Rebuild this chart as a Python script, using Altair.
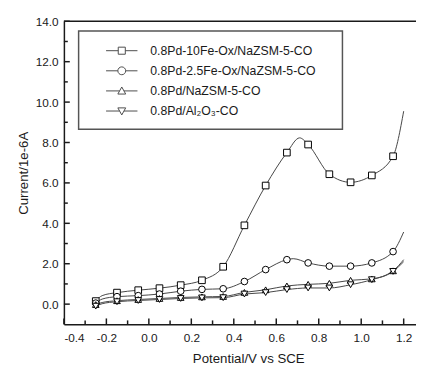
import altair as alt
import pandas as pd

# ---------------- data ----------------
series_names = [
    "0.8Pd-10Fe-Ox/NaZSM-5-CO",
    "0.8Pd-2.5Fe-Ox/NaZSM-5-CO",
    "0.8Pd/NaZSM-5-CO",
    "0.8Pd/Al₂O₃-CO",
]
x_markers = [-0.25, -0.15, -0.05, 0.05, 0.15, 0.25, 0.35, 0.45, 0.55, 0.65, 0.75, 0.85, 0.95, 1.05, 1.15]
fe10_y = [0.15, 0.57, 0.69, 0.79, 0.94, 1.18, 1.85, 3.9, 5.87, 7.5, 7.9, 6.43, 6.03, 6.37, 7.32]
fe25_y = [0.05, 0.37, 0.42, 0.5, 0.64, 0.73, 0.76, 1.12, 1.71, 2.2, 2.04, 1.88, 1.88, 2.04, 2.6]
nazsm_y = [-0.02, 0.17, 0.23, 0.28, 0.33, 0.36, 0.38, 0.58, 0.71, 0.9, 0.98, 1.03, 1.18, 1.25, 1.65]
al2o3_y = [-0.1, 0.12, 0.18, 0.23, 0.28, 0.31, 0.32, 0.5, 0.57, 0.72, 0.8, 0.8, 0.96, 1.21, 1.62]

# extra points of the continuous curves (start hook, peaks, end of scan)
fe10_extra_x = [-0.22, 0.71, 1.2]
fe10_extra_y = [0.42, 8.23, 9.55]
fe25_extra_x = [-0.22, 0.68, 1.2]
fe25_extra_y = [0.25, 2.25, 3.57]
nazsm_extra_x = [-0.22, 1.2]
nazsm_extra_y = [0.08, 2.2]
al2o3_extra_x = [-0.22, 1.2]
al2o3_extra_y = [0.02, 2.1]

x_major = [-0.4, -0.2, 0.0, 0.2, 0.4, 0.6, 0.8, 1.0, 1.2]
x_minor = [-0.3, -0.1, 0.1, 0.3, 0.5, 0.7, 0.9, 1.1]
y_major = [0, 2, 4, 6, 8, 10, 12, 14]
y_minor = [1, 3, 5, 7, 9, 11, 13]

x_domain = [-0.4, 1.258]
y_domain = [-1, 14]

# ---------------- tables ----------------
marker_rows = []
for name, ys in zip(series_names, [fe10_y, fe25_y, nazsm_y, al2o3_y]):
    for xv, yv in zip(x_markers, ys):
        marker_rows.append({"series": name, "x": xv, "y": yv})
markers_df = pd.DataFrame(marker_rows)

line_rows = list(marker_rows)
for name, xs, ys in zip(
    series_names,
    [fe10_extra_x, fe25_extra_x, nazsm_extra_x, al2o3_extra_x],
    [fe10_extra_y, fe25_extra_y, nazsm_extra_y, al2o3_extra_y],
):
    for xv, yv in zip(xs, ys):
        line_rows.append({"series": name, "x": xv, "y": yv})
lines_df = pd.DataFrame(line_rows).sort_values(["series", "x"]).reset_index(drop=True)

W, H = 359, 309
FONT = "Liberation Sans"
INK = "#1a1a1a"

xscale = alt.Scale(domain=x_domain, nice=False, zero=False)
yscale = alt.Scale(domain=y_domain, nice=False, zero=False)

minus_fix = "replace(format(datum.value, '.1f'), '−', '-')"

x_axis = alt.Axis(
    values=x_major, labelExpr=minus_fix, ticks=False, grid=False,
    labelFont=FONT, labelFontSize=12, labelColor=INK, labelPadding=9,
    domainColor=INK, domainWidth=1.5,
    title="Potential/V vs SCE", titleFont=FONT, titleFontSize=13.5,
    titleFontWeight="normal", titleColor=INK,
    titleX=188, titleY=39, titleBaseline="alphabetic",
)
y_axis = alt.Axis(
    values=y_major, labelExpr=minus_fix, ticks=False, grid=False,
    labelFont=FONT, labelFontSize=12, labelColor=INK, labelPadding=6,
    domainColor=INK, domainWidth=1.5,
    title="Current/1e-6A", titleFont=FONT, titleFontSize=13.5,
    titleFontWeight="normal", titleColor=INK,
    titleX=-37, titleBaseline="alphabetic",
)


def X(field):
    return alt.X(field, scale=xscale, axis=x_axis)


def Y(field):
    return alt.Y(field, scale=yscale, axis=y_axis)


legend_box = alt.Chart(pd.DataFrame({"a": [0]})).mark_rect(
    fill="white", stroke="#555555", strokeWidth=1.5
).encode(
    x=alt.value(15), x2=alt.value(284), y=alt.value(10), y2=alt.value(110)
)

top_frame = alt.Chart(pd.DataFrame({"a": [0]})).mark_rule(
    color=INK, strokeWidth=1.5
).encode(x=alt.value(0), x2=alt.value(W), y=alt.value(0))

lines = alt.Chart(lines_df).mark_line(
    color="#444444", strokeWidth=1, interpolate="monotone"
).encode(
    x=X("x:Q"),
    y=Y("y:Q"),
    detail="series:N",
)

markers = alt.Chart(markers_df).mark_point(
    filled=True, fill="white", stroke="black", strokeWidth=1, size=46, opacity=1
).encode(
    x=X("x:Q"),
    y=Y("y:Q"),
    shape=alt.Shape(
        "series:N",
        scale=alt.Scale(domain=series_names,
                        range=["square", "circle", "triangle-up", "triangle-down"]),
        legend=None,
    ),
)

legend_paths = [
    "M-4,0H-0.9M0.9,0H4M-0.9,-0.9H0.9V0.9H-0.9Z",
    "M-4,0H-1M1,0H4M-1,0A1,1,0,1,0,1,0A1,1,0,1,0,-1,0Z",
    "M-4,0H-0.56M0.56,0H4M0,-1L1,0.8L-1,0.8Z",
    "M-4,0H-0.56M0.56,0H4M0,1L1,-0.8L-1,-0.8Z",
]

legend_carrier = alt.Chart(markers_df).transform_filter("false").mark_point(
    filled=False, color="black", strokeWidth=1, size=64
).encode(
    x=X("x:Q"),
    y=Y("y:Q"),
    shape=alt.Shape(
        "series:N",
        scale=alt.Scale(domain=series_names, range=legend_paths),
        legend=alt.Legend(
            orient="none", legendX=42.75, legendY=23.75, title=None,
            labelFont=FONT, labelFontSize=12.5, labelColor=INK,
            symbolSize=64, symbolStrokeWidth=1, symbolStrokeColor="black",
            symbolOffset=10, labelOffset=22.75, rowPadding=7.5, padding=0,
            labelLimit=400,
        ),
    ),
)

x_ticks_major = alt.Chart(pd.DataFrame({"x": x_major})).mark_rule(color=INK, strokeWidth=1.5).encode(
    x=X("x:Q"), y=alt.value(H), y2=alt.value(H - 6)
)
x_ticks_minor = alt.Chart(pd.DataFrame({"x": x_minor})).mark_rule(color=INK, strokeWidth=1.5).encode(
    x=X("x:Q"), y=alt.value(H), y2=alt.value(H - 4)
)
y_ticks_major = alt.Chart(pd.DataFrame({"y": y_major})).mark_rule(color=INK, strokeWidth=1.5).encode(
    y=Y("y:Q"), x=alt.value(0), x2=alt.value(6)
)
y_ticks_minor = alt.Chart(pd.DataFrame({"y": y_minor})).mark_rule(color=INK, strokeWidth=1.5).encode(
    y=Y("y:Q"), x=alt.value(0), x2=alt.value(4)
)

chart = alt.layer(
    legend_box, lines, markers, legend_carrier,
    x_ticks_major, x_ticks_minor, y_ticks_major, y_ticks_minor, top_frame,
).resolve_scale(
    shape="independent"
).properties(
    width=W, height=H,
    autosize=alt.AutoSizeParams(type="none"),
    padding={"left": 57, "top": 10, "right": 0, "bottom": 42},
    background="white",
).configure_view(stroke=None)

chart.save("out.html", embed_options={"renderer": "svg", "actions": False})
